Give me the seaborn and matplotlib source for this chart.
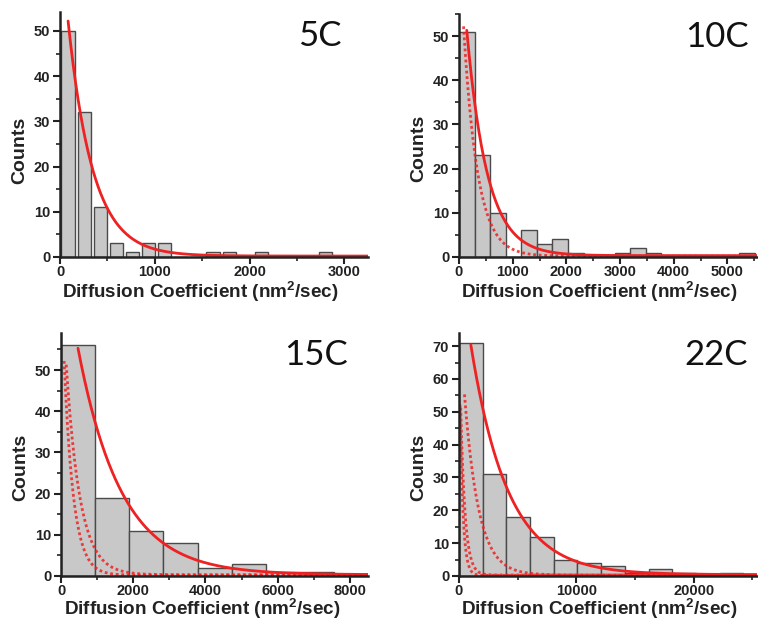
import numpy as np
import pandas as pd
import seaborn as sns
import matplotlib.pyplot as plt
from matplotlib.ticker import MultipleLocator

sns.set_style("ticks")
plt.rcParams['font.family'] = ['Liberation Sans', 'DejaVu Sans']
plt.rcParams['mathtext.fontset'] = 'custom'
plt.rcParams['mathtext.rm'] = 'Liberation Sans:bold'
plt.rcParams['mathtext.it'] = 'Liberation Sans:bold'
plt.rcParams['mathtext.bf'] = 'Liberation Sans:bold'

temperatures = ["5C", "10C", "15C", "22C"]

# Histogram bins (nm^2/sec) start at 0; counts per bin
bin_width_5C = 170
counts_5C = [50, 32, 11, 3, 1, 3, 3, 0, 0, 1, 1, 0, 1, 0, 0, 0, 1]
bin_width_10C = 290
counts_10C = [51, 23, 10, 0, 6, 3, 4, 1, 0, 0, 1, 2, 1, 0, 0, 0, 0, 0, 1]
bin_width_15C = 945
counts_15C = [56, 19, 11, 8, 2, 3, 1, 1]
bin_width_22C = 2020
counts_22C = [71, 31, 18, 12, 5, 4, 3, 1, 2, 1, 0, 1]

# Single-exponential decay fits: y0 + A * exp(-(x - x0) / t)
fit_x0 = [85, 145, 470, 1010]
fit_A = [52, 51, 55, 70]
fit_t = [260, 380, 1200, 3150]
fit_y0 = [0.2, 0.3, 0.3, 0.4]

bin_widths = [bin_width_5C, bin_width_10C, bin_width_15C, bin_width_22C]
all_counts = [counts_5C, counts_10C, counts_15C, counts_22C]

x_max = [3250, 5550, 8500, 25400]
y_max = [54.2, 55, 59, 74]
x_major = [1000, 1000, 2000, 10000]
bar_shrink = [0.82, 1.0, 1.0, 1.0]

# axes rectangles in figure fractions
rects = [
    [0.0792, 0.5862, 0.4063, 0.3945],
    [0.6055, 0.5862, 0.3931, 0.3913],
    [0.0805, 0.0725, 0.4050, 0.3913],
    [0.6055, 0.0725, 0.3931, 0.3913],
]
title_pos = [(0.915, 0.861), (0.971, 0.865), (0.936, 0.868), (0.971, 0.868)]
xlabel_pos = [(0.455, -0.143), (0.47, -0.143), (0.461, -0.137), (0.472, -0.137)]
ylabel_pos = [(-0.13, 0.437), (-0.134, 0.446), (-0.13, 0.446), (-0.134, 0.446)]

RED = '#ee2222'
BAR_FILL = '#c8c8c8'
BAR_EDGE = '#4a4a4a'


def fit_curve(j, x_end):
    xs = np.linspace(fit_x0[j], x_end, 600)
    ys = fit_y0[j] + fit_A[j] * np.exp(-(xs - fit_x0[j]) / fit_t[j])
    return xs, ys


fig = plt.figure(figsize=(7.58, 6.21), dpi=100)

for i, rect in enumerate(rects):
    ax = fig.add_axes(rect)
    w = bin_widths[i]
    counts = all_counts[i]
    edges = [k * w for k in range(len(counts) + 1)]
    hist_df = pd.DataFrame({'D': [e + w / 2 for e in edges[:-1]], 'n': counts})
    sns.histplot(data=hist_df, x='D', weights='n', bins=edges, ax=ax,
                 color=BAR_FILL, edgecolor=BAR_EDGE, linewidth=1.0,
                 alpha=1.0, shrink=bar_shrink[i])

    # fits of the lower temperatures, for comparison
    for j in range(i):
        xs, ys = fit_curve(j, x_max[i])
        sns.lineplot(x=xs, y=ys, ax=ax, color=RED, lw=2.0, estimator=None,
                     linestyle=(0, (1.0, 1.0)), alpha=0.85)
    xs, ys = fit_curve(i, x_max[i])
    sns.lineplot(x=xs, y=ys, ax=ax, color=RED, lw=2.0, estimator=None)

    ax.set_xlim(0, x_max[i])
    ax.set_ylim(0, y_max[i])
    ax.xaxis.set_major_locator(MultipleLocator(x_major[i]))
    ax.xaxis.set_minor_locator(MultipleLocator(x_major[i] / 2))
    ax.yaxis.set_major_locator(MultipleLocator(10))
    ax.yaxis.set_minor_locator(MultipleLocator(5))
    ax.tick_params(which='major', direction='out', length=5, width=1.5,
                   labelsize=10.5, pad=2, color='#222222')
    ax.tick_params(axis='x', which='major', pad=1)
    ax.tick_params(which='minor', direction='out', length=3, width=1.2,
                   color='#222222')
    for lab in ax.get_xticklabels() + ax.get_yticklabels():
        lab.set_fontweight('bold')
        lab.set_color('#222222')

    sns.despine(ax=ax)
    for s in ('left', 'bottom'):
        ax.spines[s].set_linewidth(1.8)
        ax.spines[s].set_color('#222222')
        ax.spines[s].set_zorder(5)

    ax.set_xlabel(r'Diffusion Coefficient (nm$^2$/sec)', fontsize=13.6,
                  fontweight='bold', color='#222222')
    ax.xaxis.label.set_va('center')
    ax.xaxis.set_label_coords(*xlabel_pos[i])
    ax.set_ylabel('Counts', fontsize=14, fontweight='bold', color='#222222')
    ax.yaxis.label.set_va('center')
    ax.yaxis.set_label_coords(*ylabel_pos[i])

    tx, ty = title_pos[i]
    ax.text(tx, ty, temperatures[i], transform=ax.transAxes, ha='right',
            va='baseline', fontsize=25, family=['Lato', 'DejaVu Sans'],
            color='#111111')

fig.savefig('out.png', dpi=100)
